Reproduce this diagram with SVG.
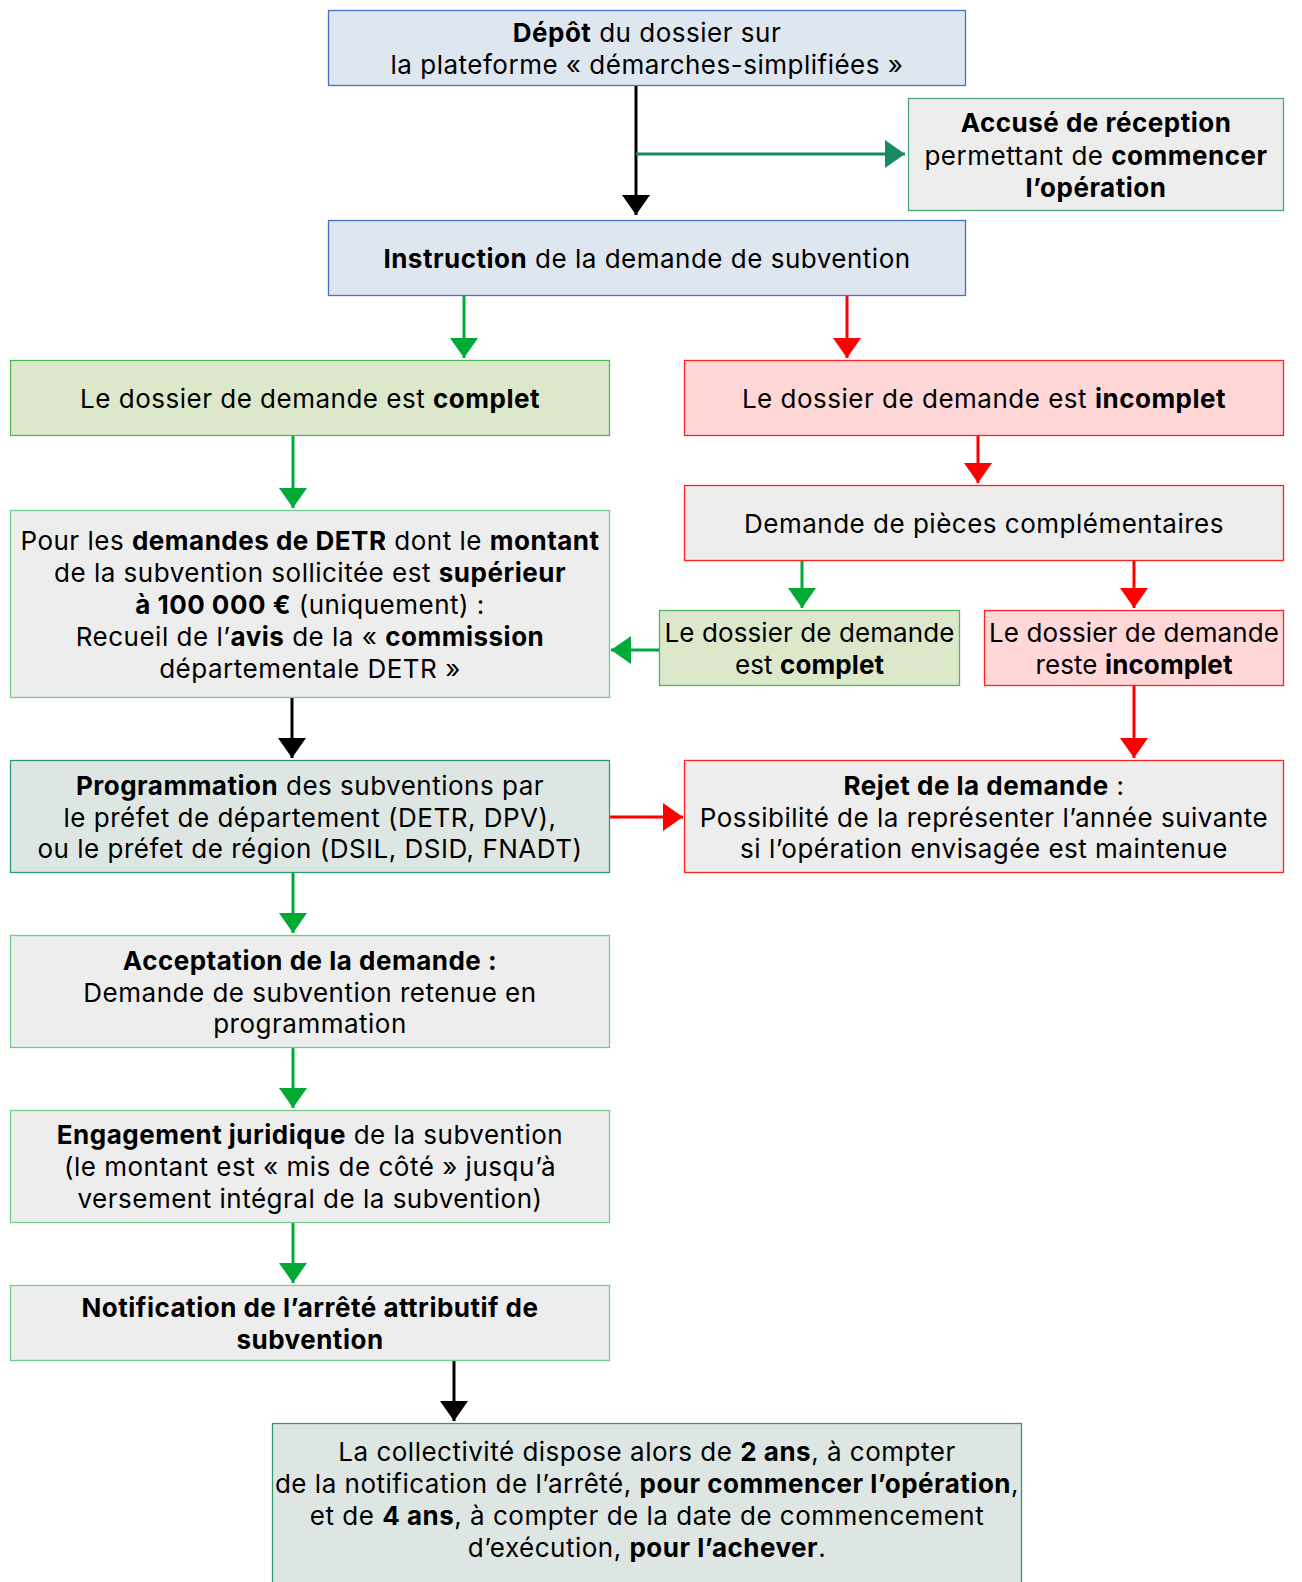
<svg xmlns="http://www.w3.org/2000/svg" width="1302" height="1582" viewBox="0 0 1302 1582">
<style>
text{font-family:Inter,"Open Sans","Liberation Sans",sans-serif;font-size:26px;letter-spacing:0.5px;fill:#000;text-anchor:middle}
.b{font-weight:bold}
.s{letter-spacing:0.1px}
rect{stroke-width:1.3}
.blue{fill:#dee6ef;stroke:#4472c4}
.grey-g{fill:#ededed;stroke:#74cc8a}
.grey-r{fill:#ededed;stroke:#ff2020}
.grey-t{fill:#ededed;stroke:#4fa57e}
.green{fill:#dde8cb;stroke:#4cb860}
.pink{fill:#ffd7d7;stroke:#ff2020}
.teal{fill:#dee6e4;stroke:#2e9a70}
.c{fill:none;stroke-width:3}
</style>
<defs>
<marker id="mk" viewBox="0 0 20 28" refX="20" refY="14" markerWidth="20" markerHeight="28" markerUnits="userSpaceOnUse" orient="auto"><path d="M0,0L20,14L0,28z" fill="#000"/></marker>
<marker id="mg" viewBox="0 0 20 28" refX="20" refY="14" markerWidth="20" markerHeight="28" markerUnits="userSpaceOnUse" orient="auto"><path d="M0,0L20,14L0,28z" fill="#00aa35"/></marker>
<marker id="mr" viewBox="0 0 20 28" refX="20" refY="14" markerWidth="20" markerHeight="28" markerUnits="userSpaceOnUse" orient="auto"><path d="M0,0L20,14L0,28z" fill="#ff0000"/></marker>
<marker id="mt" viewBox="0 0 20 28" refX="20" refY="14" markerWidth="20" markerHeight="28" markerUnits="userSpaceOnUse" orient="auto"><path d="M0,0L20,14L0,28z" fill="#168a63"/></marker>
</defs>
<g id="connectors">
<path class="c" d="M636,85V215" stroke="#000" marker-end="url(#mk)"/>
<path class="c" d="M636,154H905" stroke="#168a63" marker-end="url(#mt)"/>
<path class="c" d="M464,295V358" stroke="#00aa35" marker-end="url(#mg)"/>
<path class="c" d="M847,295V358" stroke="#ff0000" marker-end="url(#mr)"/>
<path class="c" d="M293,435V508" stroke="#00aa35" marker-end="url(#mg)"/>
<path class="c" d="M978,435V483" stroke="#ff0000" marker-end="url(#mr)"/>
<path class="c" d="M802,560V608" stroke="#00aa35" marker-end="url(#mg)"/>
<path class="c" d="M1134,560V608" stroke="#ff0000" marker-end="url(#mr)"/>
<path class="c" d="M659,650H611" stroke="#00aa35" marker-end="url(#mg)"/>
<path class="c" d="M1134,685V758" stroke="#ff0000" marker-end="url(#mr)"/>
<path class="c" d="M292,697V758" stroke="#000" marker-end="url(#mk)"/>
<path class="c" d="M609,817H683" stroke="#ff0000" marker-end="url(#mr)"/>
<path class="c" d="M293,872V933" stroke="#00aa35" marker-end="url(#mg)"/>
<path class="c" d="M293,1047V1108" stroke="#00aa35" marker-end="url(#mg)"/>
<path class="c" d="M293,1222V1283" stroke="#00aa35" marker-end="url(#mg)"/>
<path class="c" d="M454,1360V1421" stroke="#000" marker-end="url(#mk)"/>
</g>
<g id="depot">
<rect class="blue" x="328.5" y="10.5" width="637" height="75"/>
<text x="647" y="42"><tspan class="b">Dépôt</tspan> du dossier sur</text>
<text x="647" y="74">la plateforme « démarches-simplifiées »</text>
</g>
<g id="accuse">
<rect class="grey-t" x="908.5" y="98.5" width="375" height="112"/>
<text x="1096" y="132" class="b">Accusé de réception</text>
<text x="1096" y="165">permettant de <tspan class="b">commencer</tspan></text>
<text x="1096" y="197" class="b">l’opération</text>
</g>
<g id="instruction">
<rect class="blue" x="328.5" y="220.5" width="637" height="75"/>
<text x="647" y="268"><tspan class="b">Instruction</tspan> de la demande de subvention</text>
</g>
<g id="complet">
<rect class="green" x="10.5" y="360.5" width="599" height="75"/>
<text x="310" y="408">Le dossier de demande est <tspan class="b">complet</tspan></text>
</g>
<g id="incomplet">
<rect class="pink" x="684.5" y="360.5" width="599" height="75"/>
<text x="984" y="408">Le dossier de demande est <tspan class="b">incomplet</tspan></text>
</g>
<g id="pieces">
<rect class="grey-r" x="684.5" y="485.5" width="599" height="75"/>
<text x="984" y="533">Demande de pièces complémentaires</text>
</g>
<g id="detr">
<rect class="grey-g" x="10.5" y="510.5" width="599" height="187"/>
<text x="310" y="550">Pour les <tspan class="b">demandes de DETR</tspan> dont le <tspan class="b">montant</tspan></text>
<text x="310" y="582">de la subvention sollicitée est <tspan class="b">supérieur</tspan></text>
<text x="310" y="614"><tspan class="b">à 100 000 €</tspan> (uniquement) :</text>
<text x="310" y="646">Recueil de l’<tspan class="b">avis</tspan> de la « <tspan class="b">commission</tspan></text>
<text x="310" y="678">départementale DETR »</text>
</g>
<g id="complet2">
<rect class="green" x="659.5" y="610.5" width="300" height="75"/>
<text x="809.5" y="642" class="s">Le dossier de demande</text>
<text x="809.5" y="674" class="s">est <tspan class="b">complet</tspan></text>
</g>
<g id="incomplet2">
<rect class="pink" x="984.5" y="610.5" width="299" height="75"/>
<text x="1134" y="642" class="s">Le dossier de demande</text>
<text x="1134" y="674" class="s">reste <tspan class="b">incomplet</tspan></text>
</g>
<g id="programmation">
<rect class="teal" x="10.5" y="760.5" width="599" height="112"/>
<text x="310" y="795"><tspan class="b">Programmation</tspan> des subventions par</text>
<text x="310" y="827">le préfet de département (DETR, DPV),</text>
<text x="310" y="858">ou le préfet de région (DSIL, DSID, FNADT)</text>
</g>
<g id="rejet">
<rect class="grey-r" x="684.5" y="760.5" width="599" height="112"/>
<text x="984" y="795"><tspan class="b">Rejet de la demande</tspan> :</text>
<text x="984" y="827">Possibilité de la représenter l’année suivante</text>
<text x="984" y="858">si l’opération envisagée est maintenue</text>
</g>
<g id="acceptation">
<rect class="grey-g" x="10.5" y="935.5" width="599" height="112"/>
<text x="310" y="970" class="b">Acceptation de la demande :</text>
<text x="310" y="1002">Demande de subvention retenue en</text>
<text x="310" y="1033">programmation</text>
</g>
<g id="engagement">
<rect class="grey-g" x="10.5" y="1110.5" width="599" height="112"/>
<text x="310" y="1144"><tspan class="b">Engagement juridique</tspan> de la subvention</text>
<text x="310" y="1176">(le montant est « mis de côté » jusqu’à</text>
<text x="310" y="1208">versement intégral de la subvention)</text>
</g>
<g id="notification">
<rect class="grey-g" x="10.5" y="1285.5" width="599" height="75"/>
<text x="310" y="1317" class="b">Notification de l’arrêté attributif de</text>
<text x="310" y="1349" class="b">subvention</text>
</g>
<g id="final">
<rect class="teal" x="272.5" y="1423.5" width="749" height="170"/>
<text x="647" y="1461">La collectivité dispose alors de <tspan class="b">2 ans</tspan>, à compter</text>
<text x="647" y="1493">de la notification de l’arrêté, <tspan class="b">pour commencer l’opération</tspan>,</text>
<text x="647" y="1525">et de <tspan class="b">4 ans</tspan>, à compter de la date de commencement</text>
<text x="647" y="1557">d’exécution, <tspan class="b">pour l’achever</tspan>.</text>
</g>
</svg>
